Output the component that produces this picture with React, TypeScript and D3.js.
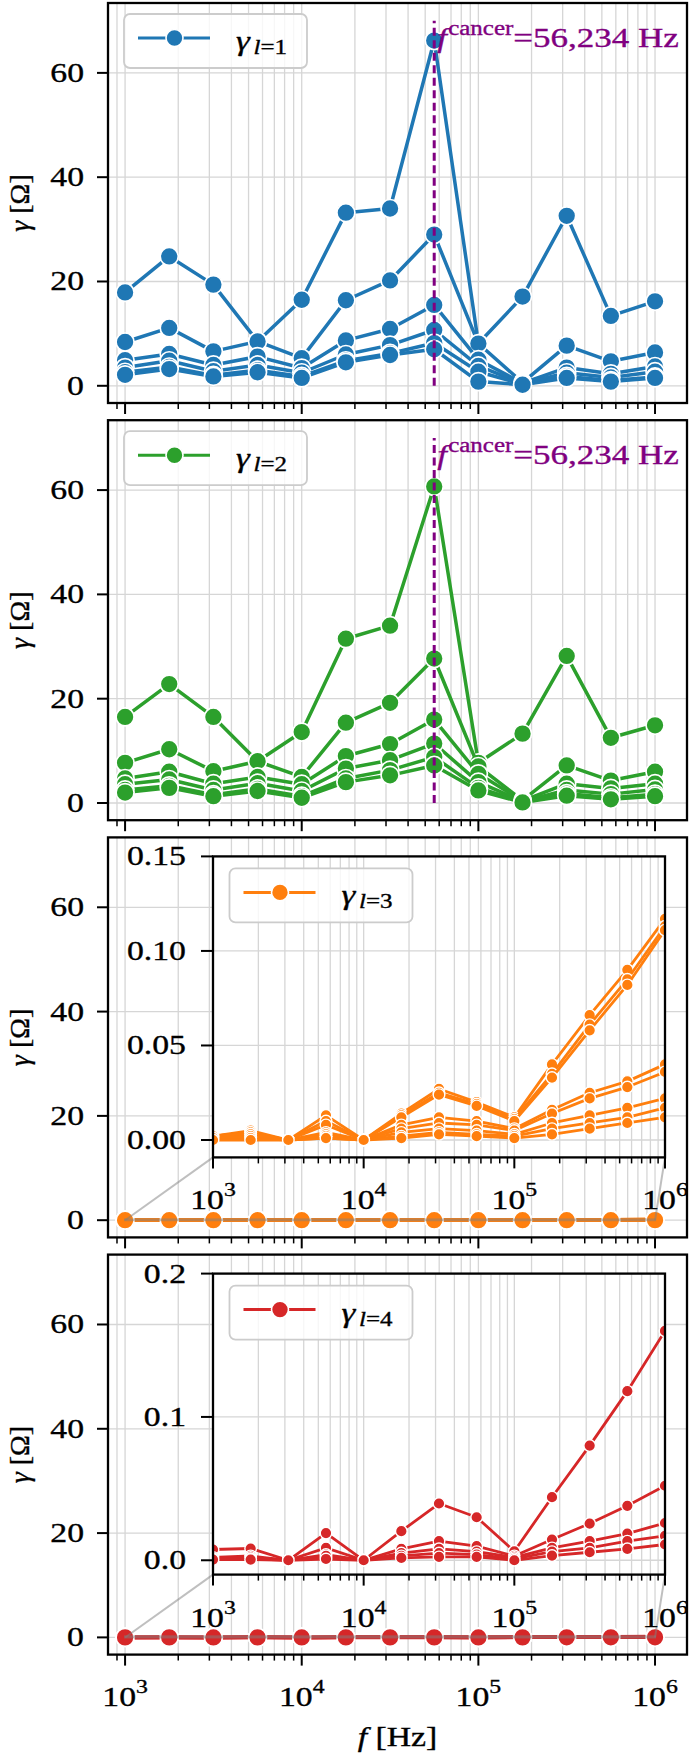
import React from 'react';
import * as d3 from 'd3';

// ---------------- data ----------------
const FREQS = [1000, 1778, 3162, 5623, 10000, 17783, 31623, 56234, 100000, 177828, 316228, 562341, 1000000];
const F_CANCER = 56234;

const gammaL1Series = [
  [17.9, 24.8, 19.4, 8.5, 16.5, 33.2, 34.0, 66.2, 8.1, 17.1, 32.6, 13.4, 16.2],
  [8.4, 11.1, 6.6, 8.5, 5.3, 16.4, 20.2, 29.0, 8.1, 0.6, 7.7, 4.7, 6.4],
  [4.9, 6.1, 4.0, 5.6, 3.4, 8.7, 10.9, 15.5, 5.0, 0.5, 3.5, 2.3, 3.7],
  [3.5, 4.8, 2.8, 4.0, 2.5, 6.0, 7.8, 10.7, 3.8, 0.4, 2.5, 1.6, 2.7],
  [2.6, 3.6, 2.0, 3.0, 1.8, 4.8, 6.2, 8.2, 2.7, 0.3, 1.8, 1.0, 1.7],
  [2.1, 3.2, 1.8, 2.6, 1.5, 4.5, 5.9, 7.0, 0.8, 0.2, 1.5, 0.8, 1.5],
];

const gammaL2Series = [
  [16.5, 22.8, 16.5, 8.0, 13.6, 31.5, 34.0, 60.7, 7.7, 13.3, 28.2, 12.5, 14.9],
  [7.7, 10.3, 6.1, 8.0, 5.0, 15.4, 19.2, 27.7, 7.0, 0.5, 7.2, 4.3, 6.0],
  [4.7, 6.0, 3.7, 5.0, 3.6, 9.0, 11.3, 16.0, 5.6, 0.4, 3.7, 2.8, 3.7],
  [3.6, 4.5, 2.5, 3.8, 2.3, 6.6, 8.2, 11.4, 4.0, 0.3, 2.5, 1.7, 2.6],
  [2.5, 3.3, 1.6, 2.7, 1.3, 4.7, 6.3, 8.8, 2.9, 0.2, 1.8, 1.0, 1.7],
  [2.0, 2.9, 1.3, 2.3, 1.0, 4.0, 5.3, 7.2, 2.4, 0.1, 1.4, 0.7, 1.3],
];

const gammaL3Series = [
  [0.002, 0.005, 0.000, 0.013, 0.000, 0.014, 0.027, 0.020, 0.012, 0.040, 0.066, 0.090, 0.117],
  [0.002, 0.004, 0.000, 0.010, 0.000, 0.013, 0.025, 0.019, 0.011, 0.035, 0.061, 0.085, 0.113],
  [0.002, 0.004, 0.000, 0.008, 0.000, 0.012, 0.024, 0.018, 0.010, 0.033, 0.058, 0.082, 0.111],
  [0.002, 0.003, 0.000, 0.004, 0.000, 0.008, 0.012, 0.010, 0.006, 0.016, 0.025, 0.031, 0.040],
  [0.002, 0.003, 0.000, 0.003, 0.000, 0.006, 0.009, 0.008, 0.005, 0.014, 0.022, 0.028, 0.036],
  [0.001, 0.002, 0.000, 0.002, 0.000, 0.004, 0.006, 0.005, 0.003, 0.009, 0.013, 0.017, 0.022],
  [0.001, 0.001, 0.000, 0.001, 0.000, 0.002, 0.004, 0.003, 0.002, 0.006, 0.009, 0.012, 0.017],
  [0.000, 0.000, 0.000, 0.001, 0.000, 0.001, 0.003, 0.002, 0.001, 0.003, 0.006, 0.009, 0.012],
];

const gammaL4Series = [
  [0.0075, 0.0082, 0.0, 0.019, 0.0, 0.0203, 0.0396, 0.030, 0.0063, 0.044, 0.080, 0.118, 0.160],
  [0.002, 0.003, 0.0, 0.0086, 0.0, 0.0079, 0.0133, 0.0098, 0.003, 0.0145, 0.0256, 0.038, 0.052],
  [0.001, 0.002, 0.0, 0.004, 0.0, 0.005, 0.008, 0.006, 0.002, 0.0086, 0.0133, 0.0186, 0.026],
  [0.001, 0.001, 0.0, 0.003, 0.0, 0.003, 0.005, 0.004, 0.001, 0.006, 0.0086, 0.0133, 0.017],
  [0.0005, 0.0005, 0.0, 0.0009, 0.0, 0.0016, 0.0023, 0.0023, 0.0, 0.0033, 0.0056, 0.008, 0.011],
];

const MAIN_Y_TICKS = [0, 20, 40, 60];
const X_MAJOR = [1e3, 1e4, 1e5, 1e6];
const X_EXPONENTS = ['3', '4', '5', '6'];
const INSET3_Y_TICKS = [0, 0.05, 0.1, 0.15];
const INSET3_Y_LABELS = ['0.00', '0.05', '0.10', '0.15'];
const INSET4_Y_TICKS = [0, 0.1, 0.2];
const INSET4_Y_LABELS = ['0.0', '0.1', '0.2'];
const LEGEND_SUBS = ['1', '2', '3', '4'];
const COLORS = ['#1f77b4', '#2ca02c', '#ff7f0e', '#d62728'];
const ANNOT_TEXT = '=56,234 Hz';

// ---------------- layout ----------------
const W = 692, H = 1757;
const AX_L = 108, AX_R = 687, AX_H = 400;
const PANEL_TOPS = [3, 420.2, 837.4, 1254.6];
const X_DOMAIN = [800.5, 1.517e6];
const Y_DOMAIN = [-3.3, 73.4];
const INSET_L = 213, INSET_R = 665, INSET_TOP_OFF = 19, INSET_BOT_OFF = 320;
const ST = 1.25;
const FONT = "'Liberation Serif', 'Times New Roman', Times, serif";
const PURPLE = '#800080';
const GRID = '#d6d6d6';

const isMajor = (t: number) => Math.abs(Math.log10(t) - Math.round(Math.log10(t))) < 1e-6;

function T({ x, y, size = 27, anchor = 'start', fill = '#000', children, stretch = ST }: any) {
  return (
    <g transform={`translate(${x},${y}) scale(${stretch},1)`}>
      <text textAnchor={anchor} fontSize={size} fill={fill} stroke={fill} strokeWidth={0.35} fontFamily={FONT}>{children}</text>
    </g>
  );
}

function Legend({ x, y, color, sub }: any) {
  return (
    <g>
      <rect x={x} y={y} width={183} height={54} rx={6} fill="#fff" fillOpacity={0.8} stroke="#cccccc" strokeWidth={1.8} />
      <line x1={x + 14} x2={x + 86} y1={y + 24} y2={y + 24} stroke={color} strokeWidth={3} />
      <circle cx={x + 50.5} cy={y + 24} r={8.5} fill={color} stroke="#fff" strokeWidth={1.6} />
      <T x={x + 112} y={y + 36} size={28}>
        <tspan fontStyle="italic">γ</tspan>
        <tspan fontSize={20} dy={4} dx={3} fontStyle="italic">l</tspan>
        <tspan fontSize={20}>{'=' + sub}</tspan>
      </T>
    </g>
  );
}

function Series({ series, xs, ys, color, lw, r, sw }: any) {
  const line = d3.line<number>().x((_, i) => xs(FREQS[i])).y((d) => ys(d));
  return (
    <g>
      {series.map((s: number[], k: number) => (
        <g key={k}>
          <path d={line(s) || ''} fill="none" stroke={color} strokeWidth={lw} strokeLinejoin="round" />
          {s.map((v, i) => (
            <circle key={i} cx={xs(FREQS[i])} cy={ys(v)} r={r} fill={color} stroke="#fff" strokeWidth={sw} />
          ))}
        </g>
      ))}
    </g>
  );
}

function XTicks({ xs, y, showLabels, labelDy }: any) {
  const ticks = xs.ticks();
  return (
    <g>
      {ticks.map((t: number, i: number) => {
        const maj = isMajor(t);
        return <line key={i} x1={xs(t)} x2={xs(t)} y1={y} y2={y + (maj ? 11 : 6)} stroke="#000" strokeWidth={maj ? 2 : 1.5} />;
      })}
      {showLabels && X_MAJOR.map((t, i) => (
        <T key={'l' + i} x={xs(t)} y={y + labelDy} anchor="middle">
          <tspan>10</tspan>
          <tspan fontSize={19} dy={-13}>{X_EXPONENTS[i]}</tspan>
        </T>
      ))}
    </g>
  );
}

function Panel({ idx, top, series, color, cancer, inset }: any) {
  const bottom = top + AX_H;
  const xs = d3.scaleLog().domain(X_DOMAIN).range([AX_L, AX_R]);
  const ys = d3.scaleLinear().domain(Y_DOMAIN).range([bottom, top]);
  const clipId = `clip-main-${idx}`;
  const xt = xs.ticks();
  let insetEl = null;
  let zoomEl = null;
  if (inset) {
    const iTop = top + INSET_TOP_OFF, iBot = top + INSET_BOT_OFF;
    const ixs = d3.scaleLog().domain([1e3, 1e6]).range([INSET_L, INSET_R]);
    const iys = d3.scaleLinear().domain(inset.yDomain).range([iBot, iTop]);
    const iClip = `clip-inset-${idx}`;
    const gray = 'rgba(128,128,128,0.5)';
    zoomEl = (
      <g>
        <rect x={xs(1e3)} y={ys(inset.yDomain[1])} width={xs(1e6) - xs(1e3)} height={Math.max(0.5, ys(inset.yDomain[0]) - ys(inset.yDomain[1]))} fill="none" stroke={gray} strokeWidth={2} />
        <line x1={xs(1e3)} y1={ys(inset.yDomain[0])} x2={INSET_L} y2={iBot} stroke={gray} strokeWidth={2} />
        <line x1={xs(1e6)} y1={ys(inset.yDomain[0])} x2={INSET_R} y2={iBot} stroke={gray} strokeWidth={2} />
      </g>
    );
    insetEl = (
      <g>
        <defs>
          <clipPath id={iClip}><rect x={INSET_L} y={iTop} width={INSET_R - INSET_L} height={iBot - iTop} /></clipPath>
        </defs>
        <rect x={INSET_L} y={iTop} width={INSET_R - INSET_L} height={iBot - iTop} fill="#fff" />
        <g clipPath={`url(#${iClip})`}>
          {ixs.ticks().map((t: number, i: number) => (
            <line key={i} x1={ixs(t)} x2={ixs(t)} y1={iTop} y2={iBot} stroke={GRID} strokeWidth={1.3} />
          ))}
          {inset.yTicks.map((t: number, i: number) => (
            <line key={'y' + i} x1={INSET_L} x2={INSET_R} y1={iys(t)} y2={iys(t)} stroke={GRID} strokeWidth={1.3} />
          ))}
          <Series series={series} xs={ixs} ys={iys} color={color} lw={2.8} r={5.8} sw={1.4} />
        </g>
        <rect x={INSET_L} y={iTop} width={INSET_R - INSET_L} height={iBot - iTop} fill="none" stroke="#000" strokeWidth={2.3} />
        {inset.yTicks.map((t: number, i: number) => (
          <g key={'yt' + i}>
            <line x1={INSET_L - 12} x2={INSET_L} y1={iys(t)} y2={iys(t)} stroke="#000" strokeWidth={2} />
            <T x={INSET_L - 27} y={iys(t) + 9} anchor="end">{inset.yLabels[i]}</T>
          </g>
        ))}
        <XTicks xs={ixs} y={iBot} showLabels={true} labelDy={52} />
        <Legend x={INSET_L + 16.5} y={iTop + 12} color={color} sub={LEGEND_SUBS[idx]} />
      </g>
    );
  }
  return (
    <g>
      <defs>
        <clipPath id={clipId}><rect x={AX_L} y={top} width={AX_R - AX_L} height={AX_H} /></clipPath>
      </defs>
      <rect x={AX_L} y={top} width={AX_R - AX_L} height={AX_H} fill="#fff" />
      <g clipPath={`url(#${clipId})`}>
        {xt.map((t: number, i: number) => (
          <line key={i} x1={xs(t)} x2={xs(t)} y1={top} y2={bottom} stroke={GRID} strokeWidth={1.3} />
        ))}
        {MAIN_Y_TICKS.map((t, i) => (
          <line key={'g' + i} x1={AX_L} x2={AX_R} y1={ys(t)} y2={ys(t)} stroke={GRID} strokeWidth={1.3} />
        ))}
        <Series series={series} xs={xs} ys={ys} color={color} lw={3.5} r={9} sw={1.7} />
        {cancer && (
          <line x1={xs(F_CANCER)} x2={xs(F_CANCER)} y1={ys(0)} y2={ys(70)} stroke={PURPLE} strokeWidth={3} strokeDasharray="8,4.5" />
        )}
        {zoomEl}
      </g>
      {cancer && (
        <T x={xs(F_CANCER) + 3} y={ys(65)} size={28} fill={PURPLE}>
          <tspan fontStyle="italic">f</tspan>
          <tspan fontSize={20} dy={-12} dx={1}>cancer</tspan>
          <tspan dy={12}>{ANNOT_TEXT}</tspan>
        </T>
      )}
      <rect x={AX_L} y={top} width={AX_R - AX_L} height={AX_H} fill="none" stroke="#000" strokeWidth={2.3} />
      {MAIN_Y_TICKS.map((t, i) => (
        <g key={'yt' + i}>
          <line x1={AX_L - 11} x2={AX_L} y1={ys(t)} y2={ys(t)} stroke="#000" strokeWidth={2} />
          <T x={AX_L - 24} y={ys(t) + 9} anchor="end">{t}</T>
        </g>
      ))}
      <XTicks xs={xs} y={bottom} showLabels={idx === 3} labelDy={51} />
      <g transform={`translate(29,${top + AX_H / 2}) rotate(-90)`}>
        <text textAnchor="middle" fontSize={28} fontFamily={FONT} stroke="#000" strokeWidth={0.35}>
          <tspan fontStyle="italic">γ</tspan>
          <tspan> [Ω]</tspan>
        </text>
      </g>
      {!inset && <Legend x={AX_L + 16} y={top + 11} color={color} sub={LEGEND_SUBS[idx]} />}
      {insetEl}
    </g>
  );
}

export default function App() {
  const panels = [
    { series: gammaL1Series, cancer: true, inset: null },
    { series: gammaL2Series, cancer: true, inset: null },
    { series: gammaL3Series, cancer: false, inset: { yDomain: [-0.0092, 0.15], yTicks: INSET3_Y_TICKS, yLabels: INSET3_Y_LABELS } },
    { series: gammaL4Series, cancer: false, inset: { yDomain: [-0.01, 0.2], yTicks: INSET4_Y_TICKS, yLabels: INSET4_Y_LABELS } },
  ];
  return (
    <svg width={W} height={H} viewBox={`0 0 ${W} ${H}`} style={{ position: 'absolute', left: 0, top: 0, background: '#fff' }}>
      <rect x={0} y={0} width={W} height={H} fill="#fff" />
      {panels.map((p, i) => (
        <Panel key={i} idx={i} top={PANEL_TOPS[i]} series={p.series} color={COLORS[i]} cancer={p.cancer} inset={p.inset} />
      ))}
      <T x={(AX_L + AX_R) / 2} y={1746} anchor="middle">
        <tspan fontStyle="italic">f</tspan>
        <tspan> [Hz]</tspan>
      </T>
    </svg>
  );
}
